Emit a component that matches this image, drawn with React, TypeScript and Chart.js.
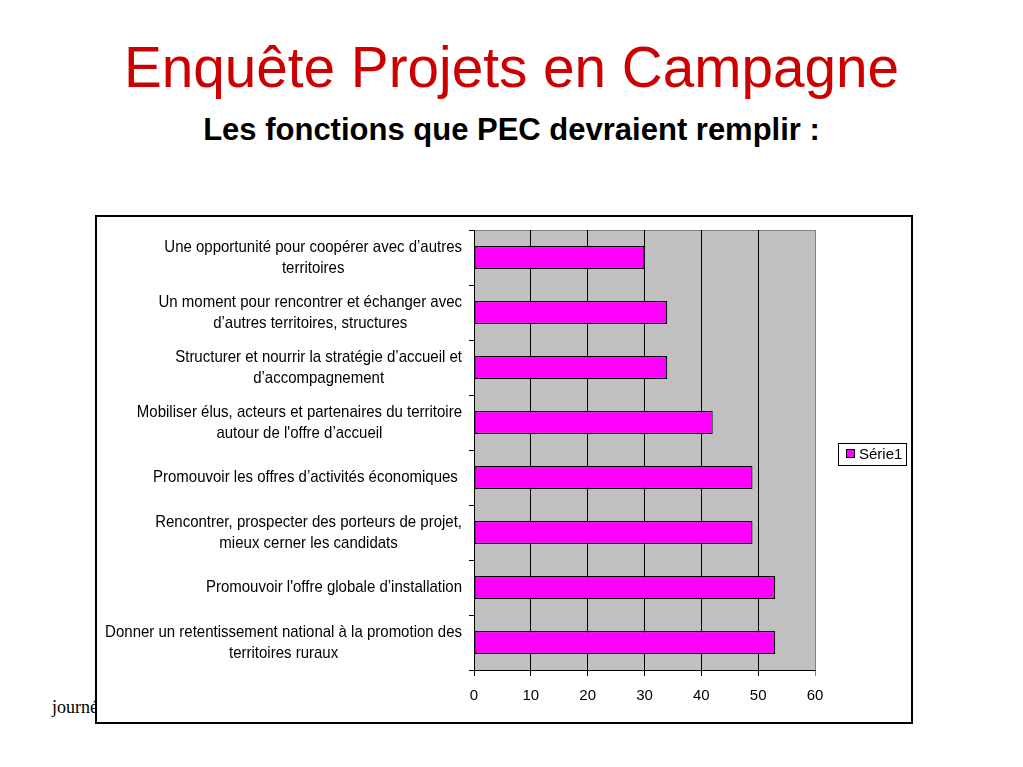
import React, { useEffect, useRef } from "react";
import { Chart, registerables } from "chart.js";

Chart.register(...registerables);

const titleText = "Enquête Projets en Campagne";
const subtitleText = "Les fonctions que PEC devraient remplir :";
const footerText = "journée";

const categories: string[][] = [
  ["Une opportunité pour coopérer avec d’autres", "territoires"],
  ["Un moment pour rencontrer et échanger avec", "d’autres territoires, structures"],
  ["Structurer et nourrir la stratégie d’accueil et", "d’accompagnement"],
  ["Mobiliser élus, acteurs et partenaires du territoire", "autour de l'offre d’accueil"],
  ["Promouvoir les offres d’activités économiques "],
  ["Rencontrer, prospecter des porteurs de projet,", "mieux cerner les candidats"],
  ["Promouvoir l'offre globale d’installation"],
  ["Donner un retentissement national à la promotion des", "territoires ruraux"],
];

const seriesName = "Série1";
const seriesValues = [30, 34, 34, 42, 49, 49, 53, 53];
const xMin = 0;
const xMax = 60;
const xStep = 10;

const FONT = "'Liberation Sans', Arial, sans-serif";
const BAR_COLOR = "#FF00FF";
const PLOT_BG = "#C0C0C0";

export default function App() {
  const canvasRef = useRef<HTMLCanvasElement | null>(null);

  useEffect(() => {
    if (!canvasRef.current) return;

    const customPlugin = {
      id: "customDecor",
      beforeDraw(chart: any) {
        const { ctx, chartArea } = chart;
        ctx.save();
        ctx.fillStyle = PLOT_BG;
        ctx.fillRect(chartArea.left, chartArea.top, chartArea.right - chartArea.left, chartArea.bottom - chartArea.top);
        ctx.strokeStyle = "#808080";
        ctx.lineWidth = 1;
        ctx.beginPath();
        ctx.moveTo(chartArea.left, chartArea.top + 0.5);
        ctx.lineTo(chartArea.right, chartArea.top + 0.5);
        ctx.stroke();
        ctx.restore();
      },
      afterDraw(chart: any) {
        const { ctx, chartArea } = chart;
        const yScale = chart.scales.y;
        ctx.save();
        ctx.font = `15px ${FONT}`;
        ctx.fillStyle = "#000";
        ctx.textBaseline = "middle";
        ctx.textAlign = "center";
        const lineH = 21;
        const rightEdge = chartArea.left - 12;
        (chart.data.labels as string[][]).forEach((lines, i) => {
          const cy = yScale.getPixelForValue(i);
          const maxW = Math.max(...lines.map((l) => ctx.measureText(l).width));
          const cx = rightEdge - maxW / 2;
          const startY = cy - ((lines.length - 1) * lineH) / 2;
          lines.forEach((l, j) => {
            ctx.save();
            ctx.translate(cx, startY + j * lineH);
            ctx.scale(1, 1.12);
            ctx.fillText(l, 0, 0);
            ctx.restore();
          });
        });

        // legend
        const ds = chart.data.datasets[0];
        const midY = (chartArea.top + chartArea.bottom) / 2 + 4;
        const lx = chartArea.right + 23;
        const lw = 68;
        const lh = 22;
        ctx.strokeStyle = "#000";
        ctx.lineWidth = 1;
        ctx.strokeRect(Math.round(lx) + 0.5, Math.round(midY - lh / 2) + 0.5, lw, lh);
        ctx.fillStyle = ds.backgroundColor;
        const sx = Math.round(lx) + 8.5;
        const sy = Math.round(midY) - 4.5;
        ctx.fillRect(sx, sy, 8, 8);
        ctx.strokeRect(sx, sy, 8, 8);
        ctx.fillStyle = "#000";
        ctx.textAlign = "left";
        ctx.font = `15px ${FONT}`;
        ctx.fillText(ds.label, Math.round(lx) + 21, Math.round(midY) + 0.5);
        ctx.restore();
      },
    };

    const chart = new Chart(canvasRef.current, {
      type: "bar",
      data: {
        labels: categories as any,
        datasets: [
          {
            label: seriesName,
            data: seriesValues,
            backgroundColor: BAR_COLOR,
            borderColor: "#000",
            borderWidth: 1.2,
            borderSkipped: false,
            categoryPercentage: 1,
            barPercentage: 0.42,
          },
        ],
      },
      options: {
        indexAxis: "y",
        animation: false,
        responsive: false,
        maintainAspectRatio: false,
        devicePixelRatio: 1,
        layout: { padding: { left: 0, right: 96, top: 13, bottom: 0 } },
        plugins: {
          legend: { display: false },
          tooltip: { enabled: false },
          title: { display: false },
        },
        scales: {
          x: {
            type: "linear",
            position: "bottom",
            min: xMin,
            max: xMax,
            ticks: {
              stepSize: xStep,
              color: "#000",
              font: { family: FONT, size: 15 },
              padding: 11,
              maxRotation: 0,
            },
            grid: {
              color: (c: any) => (c.tick && c.tick.value === xMax ? "#808080" : "#000"),
              lineWidth: 1,
              tickLength: 6,
              drawTicks: true,
            },
            border: { color: "#000", width: 1 },
            afterFit(scale: any) {
              scale.height = 52;
            },
          },
          y: {
            type: "category",
            position: "left",
            ticks: {
              callback: () => "",
              autoSkip: false,
              font: { family: FONT, size: 14 },
            },
            grid: {
              drawOnChartArea: false,
              offset: true,
              color: "#000",
              tickLength: 5,
            },
            border: { color: "#000", width: 1 },
            afterFit(scale: any) {
              scale.width = 377;
            },
          },
        },
      } as any,
      plugins: [customPlugin],
    });

    return () => chart.destroy();
  }, []);

  return (
    <div
      style={{
        position: "fixed",
        left: 0,
        top: 0,
        width: 1023,
        height: 767,
        background: "#fff",
        overflow: "hidden",
      }}
    >
      <div
        style={{
          position: "absolute",
          left: 0,
          width: 1023,
          top: 40,
          textAlign: "center",
          fontFamily: FONT,
          fontSize: 56.7,
          lineHeight: "56.7px",
          color: "#CC0000",
          whiteSpace: "nowrap",
        }}
      >
        {titleText}
      </div>
      <div
        style={{
          position: "absolute",
          left: 0,
          width: 1023,
          top: 114,
          textAlign: "center",
          fontFamily: FONT,
          fontSize: 31,
          fontWeight: "bold",
          lineHeight: "31px",
          color: "#000",
          whiteSpace: "nowrap",
        }}
      >
        {subtitleText}
      </div>
      <div
        style={{
          position: "absolute",
          left: 52,
          top: 698,
          fontFamily: "'Liberation Serif', 'Times New Roman', serif",
          fontSize: 18,
          lineHeight: "18px",
          color: "#000",
          whiteSpace: "nowrap",
        }}
      >
        {footerText}
      </div>
      <div
        style={{
          position: "absolute",
          left: 95,
          top: 215,
          width: 818,
          height: 509,
          boxSizing: "border-box",
          border: "2px solid #000",
          background: "#fff",
        }}
      >
        <canvas
          ref={canvasRef}
          width={814}
          height={505}
          style={{ position: "absolute", left: 0, top: 0, width: 814, height: 505 }}
        />
      </div>
    </div>
  );
}
